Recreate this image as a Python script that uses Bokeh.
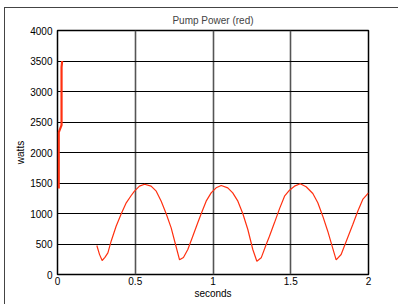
import numpy as np
from bokeh.plotting import figure
from bokeh.embed import file_html
from bokeh.resources import INLINE
from bokeh.models import FixedTicker

# Initial spike segment
spike_t = [0.008, 0.008, 0.026, 0.026, 0.030]
spike_w = [1410, 2330, 2450, 3400, 3500]

# Oscillating pump power
wave_t = [0.253, 0.270, 0.287, 0.305, 0.324, 0.345, 0.377, 0.410, 0.442, 0.474, 0.495,
          0.527, 0.560, 0.602, 0.635, 0.667, 0.699, 0.731, 0.759, 0.785, 0.810,
          0.838, 0.870, 0.902, 0.924, 0.956, 0.988, 1.020, 1.053, 1.095, 1.127,
          1.160, 1.192, 1.224, 1.256, 1.282, 1.310, 1.342, 1.363, 1.395, 1.428,
          1.460, 1.492, 1.524, 1.561, 1.599, 1.642, 1.674, 1.706, 1.738, 1.766,
          1.792, 1.824, 1.857, 1.899, 1.931, 1.963, 2.000]
wave_w = [475, 330, 230, 280, 355, 546, 792, 995, 1175, 1295, 1366,
          1448, 1480, 1448, 1366, 1202, 995, 765, 492, 240, 280,
          410, 628, 847, 995, 1202, 1339, 1421, 1459, 1421, 1339,
          1202, 995, 738, 410, 218, 273, 492, 628, 847, 1080,
          1284, 1382, 1448, 1487, 1438, 1328, 1175, 956, 710, 464,
          240, 328, 546, 820, 1038, 1230, 1339]

x_ticks = [0, 0.5, 1, 1.5, 2]
y_ticks = [0, 500, 1000, 1500, 2000, 2500, 3000, 3500, 4000]

FONT = "Liberation Sans"
RED = "#ff3010"

p = figure(frame_width=311, frame_height=244, x_range=(0, 2), y_range=(0, 4000),
           output_backend="svg", toolbar_location=None,
           min_border_left=57, min_border_right=30, min_border_top=30, min_border_bottom=30,
           title="Pump Power (red)")
p.border_fill_color = None
p.background_fill_color = "white"
p.styles = {
    "background": "linear-gradient(#444,#444) 4px 7px / 1px 100% no-repeat, "
                  "linear-gradient(#444,#444) 4px 7px / 100% 1px no-repeat, white",
}

p.title.align = "center"
p.title.text_font = FONT
p.title.text_font_size = "10px"
p.title.text_font_style = "normal"
p.title.offset = 0
p.title.standoff = 9

p.outline_line_color = "black"
p.outline_line_width = 1.5

p.xaxis.ticker = FixedTicker(ticks=x_ticks)
p.yaxis.ticker = FixedTicker(ticks=y_ticks)
for ax in (p.xaxis, p.yaxis):
    ax.axis_line_color = None
    ax.major_tick_line_color = None
    ax.minor_tick_line_color = None
    ax.major_tick_out = 0
    ax.major_tick_in = 0
    ax.minor_tick_out = 0
    ax.minor_tick_in = 0
    ax.major_label_text_font = FONT
    ax.major_label_text_font_size = "10px"
    ax.major_label_text_color = "black"
    ax.axis_label_text_font = FONT
    ax.axis_label_text_font_size = "10px"
    ax.axis_label_text_font_style = "normal"
    ax.axis_label_text_color = "black"
p.xaxis.major_label_standoff = 2
p.yaxis.major_label_standoff = 5
p.xaxis.axis_label = "seconds"
p.yaxis.axis_label = "watts"
p.xaxis.axis_label_standoff = 0
p.yaxis.axis_label_standoff = 1

p.xgrid.grid_line_color = "#555555"
p.xgrid.grid_line_width = 1.6
p.ygrid.grid_line_color = "black"
p.ygrid.grid_line_width = 1.2

p.line(spike_t, spike_w, line_color=RED, line_width=2.2)
p.line(wave_t, wave_w, line_color=RED, line_width=1.2)

open("out.html", "w").write(file_html(p, INLINE))
